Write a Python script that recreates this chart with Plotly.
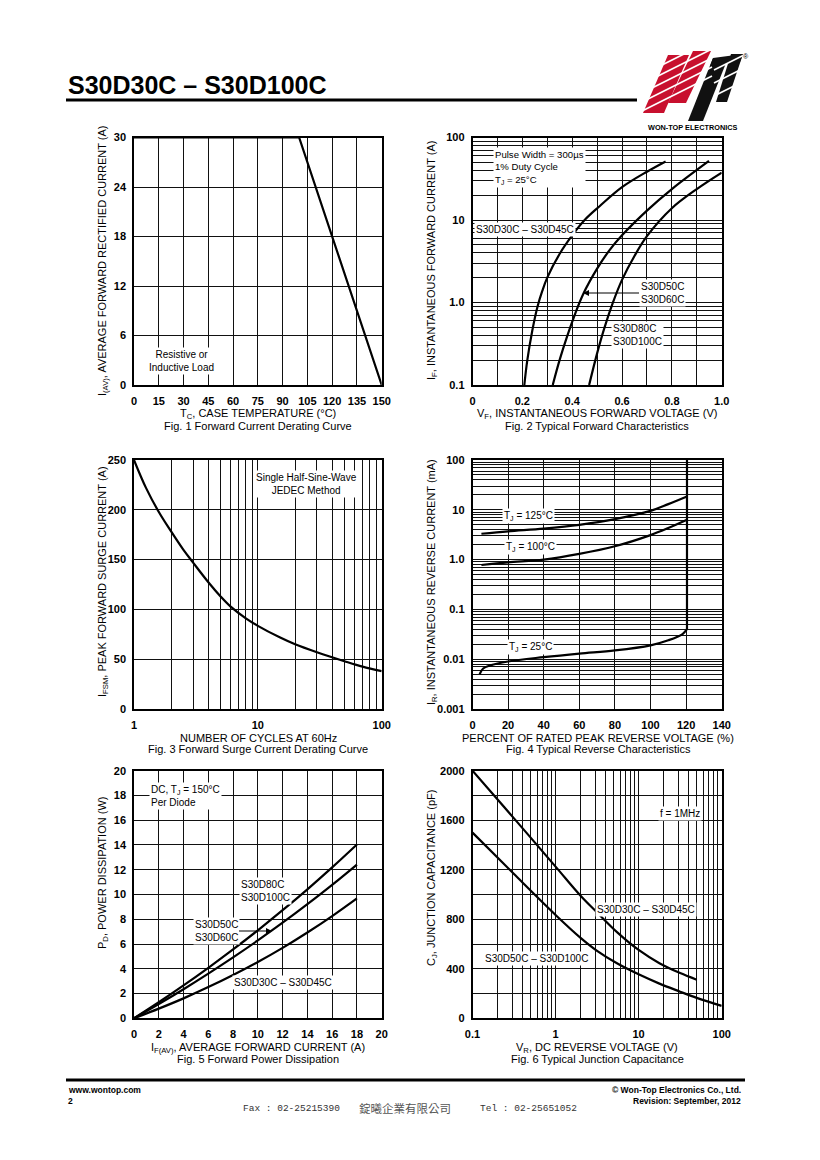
import plotly.graph_objects as go

# the page body adds an 8px margin; the figure is sized to fill the rest of the window
OFF = 8
W, H = 820 - OFF, 1160 - OFF
FONT = "Liberation Sans, Arial, sans-serif"

# ---------------- data ----------------
# Fig 1 - Forward current derating
fig1_tc = [0, 100, 150]
fig1_iav = [30, 30, 0]

# Fig 2 - Typical forward characteristics
fig2_vf_a = [0.208, 0.22, 0.24, 0.26, 0.28, 0.30, 0.35, 0.40, 0.45, 0.51, 0.60, 0.70, 0.775]
fig2_if_a = [0.1, 0.2, 0.457, 0.87, 1.38, 2.0, 3.9, 6.5, 10, 14.7, 25, 38.5, 51.3]
fig2_vf_b = [0.322, 0.35, 0.38, 0.41, 0.444, 0.50, 0.55, 0.60, 0.70, 0.80, 0.949]
fig2_if_b = [0.1, 0.203, 0.392, 0.705, 1.26, 2.57, 4.32, 6.53, 13.0, 23.7, 52.0]
fig2_vf_c = [0.468, 0.50, 0.53, 0.563, 0.60, 0.65, 0.70, 0.80, 0.90, 1.0]
fig2_if_c = [0.1, 0.242, 0.5, 0.99, 1.88, 3.66, 6.37, 13.9, 23.7, 37.5]

# Fig 3 - Forward surge current derating
fig3_cycles = [1, 1.25, 1.6, 2, 2.5, 3, 4, 5, 6, 8, 10, 15, 20, 30, 50, 70, 100]
fig3_ifsm = [250, 222, 197, 178, 160, 147, 127, 113, 103, 91, 83.5, 72, 65, 57, 48, 42.5, 38]

# Fig 4 - Typical reverse characteristics
fig4_pct_125 = [5, 20, 40, 60, 80, 100, 110, 120.5]
fig4_ir_125 = [3.3, 3.7, 4.2, 5.0, 6.5, 9.5, 13, 18.5]
fig4_pct_100 = [5, 20, 40, 60, 80, 100, 110, 120.5]
fig4_ir_100 = [0.78, 0.88, 1.0, 1.3, 1.85, 3.1, 4.3, 6.3]
fig4_pct_25 = [4, 6, 10, 20, 40, 60, 80, 100, 110, 118, 120.5]
fig4_ir_25 = [0.005, 0.0065, 0.0075, 0.009, 0.011, 0.013, 0.015, 0.019, 0.024, 0.032, 0.04]
fig4_break_pct = [120.5, 120.5]
fig4_break_ir = [0.04, 100]

# Fig 5 - Forward power dissipation
fig5_if = [0, 2, 4, 6, 8, 10, 12, 14, 16, 18]
fig5_pd_80_100 = [0, 1.3, 2.66, 4.08, 5.56, 7.11, 8.73, 10.42, 12.19, 14.04]
fig5_pd_50_60 = [0, 1.15, 2.35, 3.61, 4.92, 6.29, 7.72, 9.22, 10.78, 12.42]
fig5_pd_30_45 = [0, 0.78, 1.61, 2.52, 3.5, 4.55, 5.69, 6.93, 8.26, 9.69]

# Fig 6 - Typical junction capacitance
fig6_vr_a = [0.1, 0.316, 1, 2, 3.16, 5.62, 10, 17.8, 31.6, 50]
fig6_cj_a = [2000, 1615, 1225, 990, 855, 690, 552, 445, 365, 312]
fig6_vr_b = [0.1, 0.316, 1, 2, 3.16, 5.62, 10, 17.8, 31.6, 50, 100]
fig6_cj_b = [1500, 1165, 835, 650, 545, 440, 355, 280, 215, 165, 100]

# tick labels and grid positions
fig1_xticks = [0, 15, 30, 45, 60, 75, 90, 105, 120, 135, 150]
fig1_yticks = [0, 6, 12, 18, 24, 30]
fig2_xtickvals = [0, 0.2, 0.4, 0.6, 0.8, 1.0]
fig2_xticktext = ["0", "0.2", "0.4", "0.6", "0.8", "1.0"]
fig2_xgrid = [0.1, 0.3, 0.5, 0.7, 0.9]
fig2_ytickvals = [0.1, 1, 10, 100]
fig2_yticktext = ["0.1", "1.0", "10", "100"]
fig3_xtickvals = [1, 10, 100]
fig3_xticktext = ["1", "10", "100"]
fig3_yticks = [0, 50, 100, 150, 200, 250]
fig4_xticks = [0, 20, 40, 60, 80, 100, 120, 140]
fig4_ytickvals = [0.001, 0.01, 0.1, 1, 10, 100]
fig4_yticktext = ["0.001", "0.01", "0.1", "1.0", "10", "100"]
fig5_ticks = [0, 2, 4, 6, 8, 10, 12, 14, 16, 18, 20]
fig6_xtickvals = [0.1, 1, 10, 100]
fig6_xticktext = ["0.1", "1", "10", "100"]
fig6_ytickvals = [0, 400, 800, 1200, 1600, 2000]
fig6_ygrid = [200, 600, 1000, 1400, 1800]


def log_grid(e0, e1):
    vals = []
    for e in range(e0, e1):
        for d in range(2, 10):
            vals.append(round(d * 10 ** e, 6))
    return vals


# ---------------- helpers (page pixel -> paper fraction) ----------------
def X(px):
    return (px - OFF) / W


def Y(py):
    return 1 - (py - OFF) / H


LEFT = [X(134), X(381.7)]
RIGHT = [X(472.5), X(721.7)]
ROW1 = [Y(385), Y(137.5)]
ROW2 = [Y(709), Y(460)]
ROW3 = [Y(1018.3), Y(770.7)]


def axis(domain, rng, tickvals, ticktext, anchor, grid=None, typ="linear", standoff=4):
    d = dict(
        domain=domain, range=rng, type=typ, anchor=anchor,
        tickmode="array", tickvals=tickvals, ticktext=ticktext,
        showgrid=True, gridcolor="#111", gridwidth=1,
        showline=True, linecolor="#000", linewidth=1.5, mirror=True,
        ticks="", zeroline=False, fixedrange=True, automargin=False,
        ticklabelstandoff=standoff,
        tickfont=dict(family=FONT, size=11, color="#000", weight="bold"),
    )
    if grid:
        d["minor"] = dict(tickmode="array", tickvals=grid, showgrid=True,
                          gridcolor="#111", gridwidth=1, ticks="")
    return d


fig = go.Figure()
LINE = dict(color="#000", width=2.2)


def add(x, y, n, shape="spline"):
    fig.add_trace(go.Scatter(x=x, y=y, mode="lines", line=dict(LINE, shape=shape),
                             xaxis="x%d" % n, yaxis="y%d" % n,
                             showlegend=False, hoverinfo="skip"))


add(fig1_tc, fig1_iav, 1, "linear")
add(fig2_vf_a, fig2_if_a, 2)
add(fig2_vf_b, fig2_if_b, 2)
add(fig2_vf_c, fig2_if_c, 2)
add(fig3_cycles, fig3_ifsm, 3)
add(fig4_pct_125, fig4_ir_125, 4)
add(fig4_pct_100, fig4_ir_100, 4)
add(fig4_pct_25, fig4_ir_25, 4)
add(fig4_break_pct, fig4_break_ir, 4, "linear")
add(fig5_if, fig5_pd_80_100, 5)
add(fig5_if, fig5_pd_50_60, 5)
add(fig5_if, fig5_pd_30_45, 5)
add(fig6_vr_a, fig6_cj_a, 6)
add(fig6_vr_b, fig6_cj_b, 6)

layout = dict(
    width=W, height=H, margin=dict(l=0, r=0, t=0, b=0, pad=0, autoexpand=False),
    paper_bgcolor="white", plot_bgcolor="white", showlegend=False,
    font=dict(family=FONT, color="#000"),
    xaxis1=axis(LEFT, [0, 150], fig1_xticks, [str(v) for v in fig1_xticks], "y1", standoff=5),
    yaxis1=axis(ROW1, [0, 30], fig1_yticks, [str(v) for v in fig1_yticks], "x1"),
    xaxis2=axis(RIGHT, [0, 1.0], fig2_xtickvals, fig2_xticktext, "y2", grid=fig2_xgrid, standoff=5),
    yaxis2=axis(ROW1, [-1, 2], fig2_ytickvals, fig2_yticktext, "x2", grid=log_grid(-1, 2), typ="log"),
    xaxis3=axis(LEFT, [0, 2], fig3_xtickvals, fig3_xticktext, "y3", grid=log_grid(0, 2), typ="log", standoff=5),
    yaxis3=axis(ROW2, [0, 250], fig3_yticks, [str(v) for v in fig3_yticks], "x3"),
    xaxis4=axis(RIGHT, [0, 140], fig4_xticks, [str(v) for v in fig4_xticks], "y4", standoff=5),
    yaxis4=axis(ROW2, [-3, 2], fig4_ytickvals, fig4_yticktext, "x4", grid=log_grid(-3, 2), typ="log"),
    xaxis5=axis(LEFT, [0, 20], fig5_ticks, [str(v) for v in fig5_ticks], "y5", standoff=5),
    yaxis5=axis(ROW3, [0, 20], fig5_ticks, [str(v) for v in fig5_ticks], "x5"),
    xaxis6=axis(RIGHT, [-1, 2], fig6_xtickvals, fig6_xticktext, "y6", grid=log_grid(-1, 2), typ="log", standoff=5),
    yaxis6=axis(ROW3, [0, 2000], fig6_ytickvals, [str(v) for v in fig6_ytickvals], "x6", grid=fig6_ygrid),
)
fig.update_layout(**layout)

annotations = []


def ann(text, x, y, size=11, xanchor="center", yanchor="middle", align="center",
        bg=None, angle=0, color="#000", family=FONT, **kw):
    d = dict(text=text, x=X(x), y=Y(y), xref="paper", yref="paper",
             xanchor=xanchor, yanchor=yanchor, align=align, showarrow=False,
             textangle=angle, font=dict(family=family, size=size, color=color),
             borderpad=1)
    if bg:
        d["bgcolor"] = bg
    d.update(kw)
    annotations.append(d)


# header
ann("<b>S30D30C – S30D100C</b>", 66, 85, size=25, xanchor="left")
ann("<b>WON-TOP ELECTRONICS</b>", 692, 127, size=7.3)
ann("®", 746, 57, size=7)

# axis titles and captions
ann("I<sub>(AV)</sub>, AVERAGE FORWARD RECTIFIED CURRENT (A)", 103, 261, angle=-90)
ann("T<sub>C</sub>, CASE TEMPERATURE (°C)", 258, 414)
ann("Fig. 1 Forward Current Derating Curve", 258, 426)

ann("I<sub>F</sub>, INSTANTANEOUS FORWARD CURRENT (A)", 432, 261, angle=-90)
ann("V<sub>F</sub>, INSTANTANEOUS FORWARD VOLTAGE (V)", 597, 414)
ann("Fig. 2 Typical Forward Characteristics", 597, 426)

ann("I<sub>FSM</sub>, PEAK FORWARD SURGE CURRENT (A)", 103, 582, angle=-90)
ann("NUMBER OF CYCLES AT 60Hz", 258, 738)
ann("Fig. 3 Forward Surge Current Derating Curve", 258, 749)

ann("I<sub>R</sub>, INSTANTANEOUS REVERSE CURRENT (mA)", 432, 582, angle=-90)
ann("PERCENT OF RATED PEAK REVERSE VOLTAGE (%)", 598, 738)
ann("Fig. 4 Typical Reverse Characteristics", 598, 749)

ann("P<sub>D</sub>, POWER DISSIPATION (W)", 103, 873, angle=-90)
ann("I<sub>F(AV)</sub>, AVERAGE FORWARD CURRENT (A)", 258, 1048)
ann("Fig. 5 Forward Power Dissipation", 258, 1059)

ann("C<sub>J</sub>, JUNCTION CAPACITANCE (pF)", 432, 878, angle=-90)
ann("V<sub>R</sub>, DC REVERSE VOLTAGE (V)", 597, 1048)
ann("Fig. 6 Typical Junction Capacitance", 597, 1059)

# in-plot labels
W_ = "white"
ann("Resistive or<br>Inductive Load", 181, 361, size=10, bg=W_)
ann("Pulse Width = 300µs<br>1% Duty Cycle<br>T<sub>J</sub> = 25°C", 493, 167, size=9.6,
    xanchor="left", align="left", bg=W_)
ann("S30D30C – S30D45C", 525, 229, size=10, bg=W_)
ann("S30D50C<br>S30D60C", 583, 293, size=10, align="left", bg=W_, showarrow=True,
    ax=79, ay=0, arrowhead=2, arrowsize=1, arrowwidth=1.2, arrowcolor="#000", standoff=0)
ann("S30D80C<br>S30D100C", 637, 335, size=10, align="left", bg=W_)
ann("Single Half-Sine-Wave<br>JEDEC Method", 306, 484, size=10, bg=W_)
ann("T<sub>J</sub> = 125°C", 528, 516, size=10, bg=W_)
ann("T<sub>J</sub> = 100°C", 530, 547, size=10, bg=W_)
ann("T<sub>J</sub> = 25°C", 530, 647, size=10, bg=W_)
ann("DC, T<sub>J</sub> = 150°C<br>Per Diode", 149, 796, size=10, xanchor="left", align="left", bg=W_)
ann("S30D80C<br>S30D100C", 265, 891, size=10, align="left", bg=W_)
ann("S30D50C<br>S30D60C", 272, 931, size=10, align="left", bg=W_, showarrow=True,
    ax=-56, ay=0, arrowhead=2, arrowsize=1, arrowwidth=1.2, arrowcolor="#000", standoff=0)
ann("S30D30C – S30D45C", 283, 982, size=10, bg=W_)
ann("f = 1MHz", 680, 813, size=10, bg=W_)
ann("S30D30C – S30D45C", 646, 909, size=10, bg=W_)
ann("S30D50C – S30D100C", 536, 958, size=10, bg=W_)

# footer
ann("<b>www.wontop.com</b>", 66, 1090, size=8.5, xanchor="left")
ann("<b>2</b>", 66, 1101, size=8.5, xanchor="left")
ann("<b>© Won-Top Electronics Co., Ltd.</b>", 743, 1090, size=8.5, xanchor="right")
ann("<b>Revision: September, 2012</b>", 743, 1101, size=8.5, xanchor="right")
ann("Fax : 02-25215390", 291, 1108, size=9.5, family="Liberation Mono, monospace", color="#333")
ann("錠曦企業有限公司", 405, 1108, size=11.5, family="Noto Sans CJK TC", color="#555")
ann("Tel : 02-25651052", 528, 1108, size=9.5, family="Liberation Mono, monospace", color="#333")

fig.update_layout(annotations=annotations)

# ---- decorative shapes (header/footer rules, logo) ----
shapes = []


def hline(x0, x1, y, w):
    shapes.append(dict(type="line", xref="paper", yref="paper", x0=X(x0), x1=X(x1),
                       y0=Y(y), y1=Y(y), line=dict(color="#000", width=w)))


def poly(pts, color):
    p = "M " + " L ".join("%.5f,%.5f" % (X(a), Y(b)) for a, b in pts) + " Z"
    shapes.append(dict(type="path", xref="paper", yref="paper", path=p,
                       fillcolor=color, line=dict(width=0)))


def seg(x0, y0, x1, y1, color, w):
    shapes.append(dict(type="line", xref="paper", yref="paper", x0=X(x0), y0=Y(y0),
                       x1=X(x1), y1=Y(y1), line=dict(color=color, width=w)))


hline(66, 637, 100, 3)
hline(66, 745, 1080, 3)

RED = "#c8102e"
poly([(643, 113), (664, 113), (689, 55), (668, 55)], RED)
poly([(668, 103), (686, 103), (711, 51), (693, 51)], RED)
poly([(688, 121), (703, 121), (728, 58), (713, 58)], "#111")
poly([(716, 102), (727, 102), (743, 54), (731, 54)], "#111")
poly([(713, 58), (743, 54), (740, 62), (710, 66)], "#111")
# white stripes through the logo
for k in range(6):
    seg(640, 112 - 9 * k, 712, 76 - 9 * k, "white", 1.6)
for k in range(3):
    seg(714, 96 - 13 * k, 746, 80 - 13 * k, "white", 1.6)

fig.update_layout(shapes=shapes)

fig.write_html("out.html")
